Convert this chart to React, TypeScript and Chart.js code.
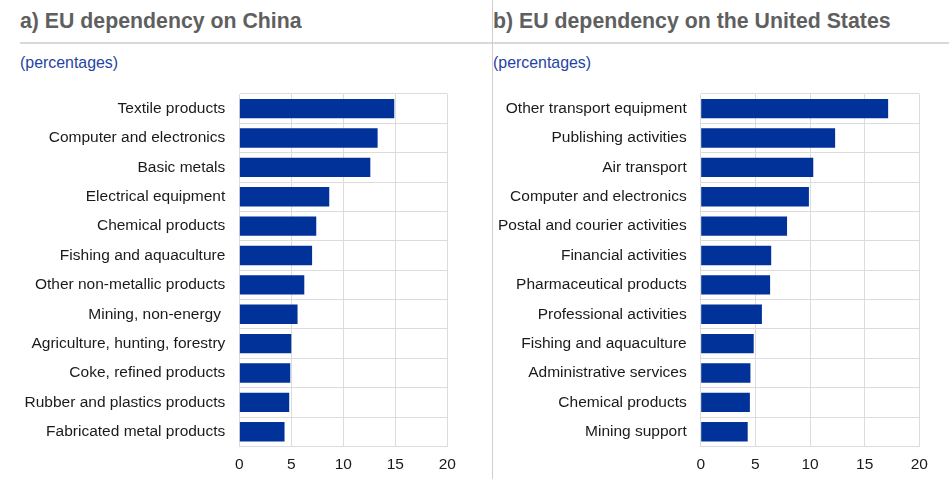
import React, { useEffect, useRef } from "react";
import { Chart, registerables } from "chart.js";

Chart.register(...registerables);

const chinaCategories = [
  "Textile products",
  "Computer and electronics",
  "Basic metals",
  "Electrical equipment",
  "Chemical products",
  "Fishing and aquaculture",
  "Other non-metallic products",
  "Mining, non-energy ",
  "Agriculture, hunting, forestry",
  "Coke, refined products",
  "Rubber and plastics products",
  "Fabricated metal products",
];
const chinaValues = [14.9, 13.3, 12.6, 8.65, 7.4, 7.0, 6.25, 5.6, 5.0, 4.9, 4.8, 4.35];

const usCategories = [
  "Other transport equipment",
  "Publishing activities",
  "Air transport",
  "Computer and electronics",
  "Postal and courier activities",
  "Financial activities",
  "Pharmaceutical products",
  "Professional activities",
  "Fishing and aquaculture",
  "Administrative services",
  "Chemical products",
  "Mining support",
];
const usValues = [17.15, 12.3, 10.3, 9.9, 7.9, 6.45, 6.35, 5.6, 4.85, 4.55, 4.5, 4.3];

const xTicks = [0, 5, 10, 15, 20];

const BAR = "#003299";
const GRID = "#dcdcdc";
const FONT = "Arial, 'Liberation Sans', sans-serif";

function BarPanel(props: {
  categories: string[];
  values: number[];
  yWidth: number;
  plotWidth: number;
  padRight: number;
  padTop: number;
  labelPad: number;
}) {
  const ref = useRef<HTMLCanvasElement | null>(null);
  useEffect(() => {
    if (!ref.current) return;
    const chart = new Chart(ref.current, {
      type: "bar",
      data: {
        labels: props.categories,
        datasets: [
          {
            data: props.values,
            backgroundColor: BAR,
            borderWidth: 0,
            barPercentage: 0.66,
            categoryPercentage: 1,
          },
        ],
      },
      options: {
        indexAxis: "y",
        animation: false,
        responsive: false,
        maintainAspectRatio: false,
        layout: { padding: { top: props.padTop, right: props.padRight, left: 0, bottom: 0 } },
        plugins: { legend: { display: false }, tooltip: { enabled: false } },
        scales: {
          x: {
            min: 0,
            max: 20,
            afterBuildTicks: (axis: any) => {
              axis.ticks = xTicks.map((v) => ({ value: v }));
            },
            afterFit: (axis: any) => {
              axis.height = 32.6;
              axis.paddingLeft = 0;
              axis.paddingRight = 0;
            },
            grid: { color: GRID, lineWidth: 1, drawTicks: false },
            border: { color: GRID },
            ticks: {
              color: "#1a1a1a",
              padding: 9,
              font: { family: FONT, size: 15.5 },
            },
          },
          y: {
            afterFit: (axis: any) => {
              axis.width = props.yWidth;
              axis.paddingTop = 0;
              axis.paddingBottom = 0;
            },
            grid: { color: GRID, lineWidth: 1, drawTicks: false, offset: true },
            border: { color: GRID },
            ticks: {
              color: "#1a1a1a",
              padding: props.labelPad,
              autoSkip: false,
              font: { family: FONT, size: 15.5 },
            },
          },
        },
      },
    });
    return () => chart.destroy();
  }, []);
  return <canvas ref={ref} width={props.yWidth + props.plotWidth + props.padRight} height={399} />;
}

export default function App() {
  const titleStyle: React.CSSProperties = {
    position: "absolute",
    top: 7,
    fontFamily: FONT,
    fontWeight: "bold",
    fontSize: 21.3,
    color: "#5f5f5f",
    whiteSpace: "nowrap",
    lineHeight: "28px",
  };
  const subStyle: React.CSSProperties = {
    position: "absolute",
    top: 54,
    fontFamily: FONT,
    fontSize: 15.9,
    color: "#1f44a3",
    whiteSpace: "nowrap",
    lineHeight: "18px",
  };
  return (
    <div
      style={{
        position: "absolute",
        left: 0,
        top: 0,
        width: 949,
        height: 479,
        background: "#fff",
        overflow: "hidden",
      }}
    >
      <div style={{ ...titleStyle, left: 20 }}>a) EU dependency on China</div>
      <div style={{ ...titleStyle, left: 493 }}>b) EU dependency on the United States</div>
      <div style={{ position: "absolute", left: 20, top: 42, width: 929, height: 2, background: "#d9d9d9" }} />
      <div style={{ position: "absolute", left: 492, top: 0, width: 1, height: 479, background: "#cfcfcf" }} />
      <div style={{ ...subStyle, left: 20 }}>(percentages)</div>
      <div style={{ ...subStyle, left: 493 }}>(percentages)</div>
      <div style={{ position: "absolute", left: 0, top: 80 }}>
        <BarPanel
          categories={chinaCategories}
          values={chinaValues}
          yWidth={239.3}
          plotWidth={208}
          padRight={22.7}
          padTop={14}
          labelPad={14}
        />
      </div>
      <div style={{ position: "absolute", left: 480, top: 80 }}>
        <BarPanel
          categories={usCategories}
          values={usValues}
          yWidth={220.7}
          plotWidth={219.6}
          padRight={28.7}
          padTop={14}
          labelPad={14}
        />
      </div>
    </div>
  );
}
